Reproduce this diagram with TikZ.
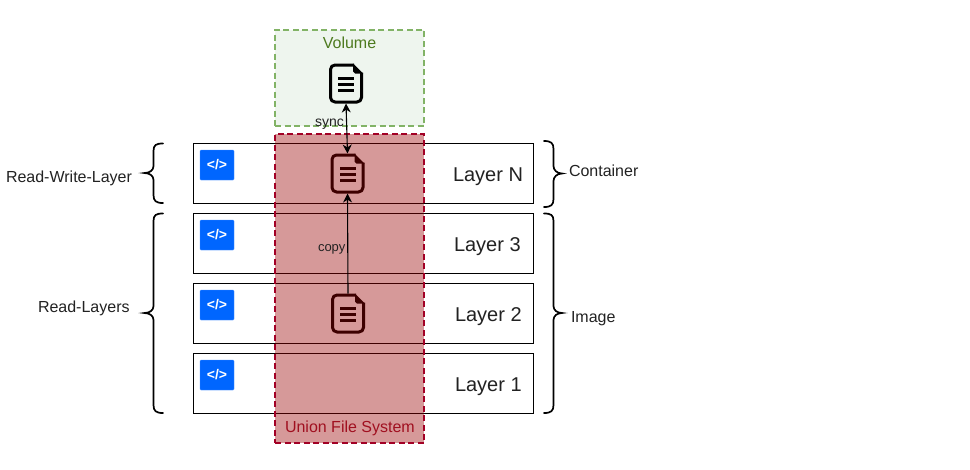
\documentclass[tikz,border=0pt]{standalone}
\usepackage{fontspec}
\setmainfont{Liberation Sans}
\usetikzlibrary{arrows.meta}
\definecolor{txt}{HTML}{222222}
\definecolor{redfill}{HTML}{990000}
\definecolor{reddash}{HTML}{A20025}
\definecolor{redtxt}{HTML}{A01020}
\definecolor{greenfill}{HTML}{EEF5EE}
\definecolor{greendash}{HTML}{82B366}
\definecolor{greentxt}{HTML}{4D7A1F}
\definecolor{iconblue}{HTML}{0066FF}
\newcommand{\px}[1]{\fontsize{#1}{#1}\selectfont}
\tikzset{
  x=1pt,y=-1pt,
  every node/.style={outer sep=0pt},
  layerbox/.style={draw=black,line width=1.1pt,fill=white,minimum width=340pt,minimum height=60pt,inner sep=0pt,anchor=north west},
  lab/.style={anchor=base west,inner sep=0pt,text=txt,font=\px{16}},
  laylab/.style={anchor=base west,inner sep=0pt,text=txt,font=\px{20}},
  smalllab/.style={anchor=base west,inner sep=0pt,text=txt},
  codeicon/.style={fill=iconblue,draw=iconblue!70!white,line width=.4pt,rounded corners=1pt,minimum width=34pt,minimum height=30pt,inner sep=0pt,anchor=north west,text=white,font=\bfseries\px{14}},
  docnode/.style={minimum width=34pt,minimum height=40pt,inner sep=0pt,anchor=north west},
  bracepath/.style={draw=black,line width=1.7pt,line cap=round},
  conn/.style={draw=black,line width=1.1pt,{Stealth[length=9pt,width=9pt]}-{Stealth[length=9pt,width=9pt]}},
  conn1/.style={draw=black,line width=1.1pt,-{Stealth[length=9pt,width=9pt]}},
}
% document icon: name, left, top
\newcommand{\docicon}[3]{%
  \node[docnode] (#1) at (#2,#3) {};
  \begin{scope}[shift={(#2,#3)}]
    \draw[line width=3pt,black,line join=round,rounded corners=4.5pt]
      (25,1.5) -- (1.5,1.5) -- (1.5,38.5) -- (32.5,38.5) -- (32.5,9);
    \fill[black] (24,0) -- (34,10) -- (26,10) -- (24,8) -- cycle;
    \fill[black] (9,13) rectangle (25,16);
    \fill[black] (9,19) rectangle (25,22);
    \fill[black] (9,25.5) rectangle (25,28.5);
  \end{scope}}
\begin{document}
\begin{tikzpicture}
\useasboundingbox (0,0) rectangle (970,469);
\fill[white] (0,0) rectangle (970,469);
% layers
\node[layerbox] (layN) at (193.5,143.5) {};
\node[layerbox] (lay3) at (193.5,213.5) {};
\node[layerbox] (lay2) at (193.5,283.5) {};
\node[layerbox] (lay1) at (193.5,353.5) {};
\node[codeicon] (icoN) at (200,150) {</>};
\node[codeicon] (ico3) at (200,220) {</>};
\node[codeicon] (ico2) at (200,290) {</>};
\node[codeicon] (ico1) at (200,360) {</>};
% volume
\node[draw=greendash,fill=greenfill,line width=2pt,dash pattern=on 6pt off 3.5pt,minimum width=149pt,minimum height=96pt,inner sep=0pt,anchor=north west] (volume) at (275,29.5) {};
\node[anchor=base,inner sep=0pt,text=greentxt,font=\px{16}] (voltxt) at (349.5,48) {Volume};
\docicon{docv}{329}{63.5}
% docs under the translucent red box
\docicon{doct}{330.5}{153.5}
\docicon{docb}{331}{293.5}
% union fs
\node[draw=reddash,fill=redfill,fill opacity=.4,draw opacity=1,line width=2pt,dash pattern=on 6pt off 3.5pt,minimum width=149pt,minimum height=309pt,inner sep=0pt,anchor=north west] (union) at (275,134) {};
\node[anchor=base west,inner sep=0pt,text=redtxt,font=\px{16}] (uniontxt) at (285,432) {Union File System};
% layer labels
\node[laylab] (tN) at (453,181) {Layer N};
\node[laylab] (t3) at (454,251) {Layer 3};
\node[laylab] (t2) at (455,321) {Layer 2};
\node[laylab] (t1) at (455,391) {Layer 1};
% connectors
\draw[conn] (docv.south) -- (doct.north);
\draw[conn1] (docb.north) -- (doct.south);
\node[smalllab,font=\px{14}] (sync) at (315,126) {sync};
\node[smalllab,font=\px{13}] (copy) at (318,251) {copy};
% left braces
\draw[bracepath] (163,143.5) .. controls (156,143.5) and (153.5,145) .. (153.5,151) -- (153.5,166) .. controls (153.5,170) and (150,173) .. (144.5,173) .. controls (150,173) and (153.5,176) .. (153.5,180) -- (153.5,195) .. controls (153.5,201) and (156,203) .. (163,203);
\draw[bracepath] (163,213.5) .. controls (156,213.5) and (153.5,215) .. (153.5,221) -- (153.5,306) .. controls (153.5,310) and (150,313) .. (144.5,313) .. controls (150,313) and (153.5,316) .. (153.5,320) -- (153.5,405) .. controls (153.5,411) and (156,413) .. (163,413);
% right braces
\draw[bracepath] (544,141) .. controls (551,141) and (553.5,143) .. (553.5,149) -- (553.5,166) .. controls (553.5,170) and (557,173.5) .. (562,173.5) .. controls (557,173.5) and (553.5,177) .. (553.5,181) -- (553.5,199) .. controls (553.5,205) and (551,207) .. (544,207);
\draw[bracepath] (544,213.5) .. controls (551,213.5) and (553.5,215) .. (553.5,221) -- (553.5,306) .. controls (553.5,310) and (557,313) .. (562,313) .. controls (557,313) and (553.5,316) .. (553.5,320) -- (553.5,405) .. controls (553.5,411) and (551,413) .. (544,413);
% side labels
\node[lab] (rwl) at (6,182) {Read-Write-Layer};
\node[lab] (rl) at (38,312) {Read-Layers};
\node[lab] (cont) at (569,176) {Container};
\node[lab] (img) at (571,322) {Image};
\end{tikzpicture}
\end{document}
